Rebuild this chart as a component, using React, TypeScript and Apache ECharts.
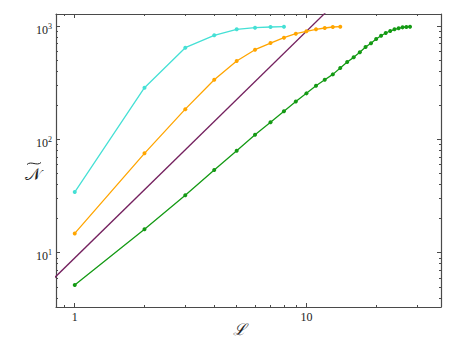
import React, { useEffect, useRef } from "react";
import * as echarts from "echarts";

// Data (log-log plot)
const cyanL = [1, 2, 3, 4, 5, 6, 7, 8];
const cyanN = [34.3, 286, 645, 829, 937, 968, 982, 988];

const orangeL = [1, 2, 3, 4, 5, 6, 7, 8, 9, 10, 11, 12, 13, 14];
const orangeN = [14.8, 75.4, 185, 336, 492, 619, 709, 790, 858, 900, 937, 962, 982, 988];

const greenL = [1, 2, 3, 4, 5, 6, 7, 8, 9, 10, 11, 12, 13, 14, 15, 16, 17, 18, 19, 20, 21, 22, 23, 24, 25, 26, 27, 28];
const greenN = [5.19, 16.1, 32.1, 53.7, 79.5, 110, 142, 177, 216, 255, 298, 336, 375, 427, 482, 530, 587, 654, 705, 769, 823, 869, 905, 937, 957, 975, 982, 988];

// Reference line N = 9 L^2 (two end points, clipped by the frame)
const refL = [0.5, 40];
const refN = [2.25, 14400];

const xRange = [0.83, 38.1];
const yRange = [3.32, 1279];

const xMajorTicks = [1, 10];
const xMinorTicks = [0.9, 2, 3, 4, 5, 6, 7, 8, 9, 20, 30];
const yMajorTicks = [10, 100, 1000];
const yMinorTicks = [4, 5, 6, 7, 8, 9, 20, 30, 40, 50, 60, 70, 80, 90, 200, 300, 400, 500, 600, 700, 800, 900];

const lg = (v: number) => Math.log10(v);
const pts = (xs: number[], ys: number[]) => xs.map((x, i) => [lg(x), lg(ys[i])]);

const FRAME = "#4a4a4a";
const TEXT = "#222";
const SERIF = '"Liberation Serif", "DejaVu Serif", serif';

export default function App() {
  const ref = useRef<HTMLDivElement>(null);
  useEffect(() => {
    if (!ref.current) return;
    const chart = echarts.init(ref.current, undefined, { renderer: "svg" });

    const xAxisBase = (position: string, ticks: number[], len: number, labels: boolean, line: boolean) => ({
      type: "value",
      position,
      min: lg(xRange[0]),
      max: lg(xRange[1]),
      axisLine: { show: line, onZero: false, lineStyle: { color: FRAME, width: 1.2 } },
      axisTick: { show: true, inside: true, length: len, customValues: ticks.map(lg), lineStyle: { color: FRAME, width: 1 } },
      axisLabel: labels
        ? {
            show: true,
            customValues: ticks.map(lg),
            margin: 4,
            color: TEXT,
            fontSize: 12,
            fontFamily: SERIF,
            formatter: (v: number) => String(Math.round(Math.pow(10, v))),
          }
        : { show: false },
      splitLine: { show: false },
    });
    const yAxisBase = (position: string, ticks: number[], len: number, labels: boolean, line: boolean) => ({
      type: "value",
      position,
      min: lg(yRange[0]),
      max: lg(yRange[1]),
      axisLine: { show: line, onZero: false, lineStyle: { color: FRAME, width: 1.2 } },
      axisTick: { show: true, inside: true, length: len, customValues: ticks.map(lg), lineStyle: { color: FRAME, width: 1 } },
      axisLabel: labels
        ? {
            show: true,
            customValues: ticks.map(lg),
            margin: 4,
            color: TEXT,
            fontFamily: SERIF,
            formatter: (v: number) => `{b|10}{s|${Math.round(v)}}`,
            rich: {
              b: { fontSize: 12, lineHeight: 12, verticalAlign: "bottom", fontFamily: SERIF, color: TEXT },
              s: { fontSize: 8, lineHeight: 19, fontFamily: SERIF, color: TEXT },
            },
          }
        : { show: false },
      splitLine: { show: false },
    });

    const lineSeries = (name: string, xs: number[], ys: number[], color: string, sym: boolean) => ({
      name,
      type: "line",
      data: pts(xs, ys),
      xAxisIndex: 0,
      yAxisIndex: 0,
      showSymbol: sym,
      symbol: "circle",
      symbolSize: 4,
      clip: true,
      lineStyle: { color, width: 1.3 },
      itemStyle: { color },
      z: 3,
    });

    chart.setOption({
      animation: false,
      backgroundColor: "#fff",
      grid: { left: 56, right: 22, top: 14, bottom: 49, containLabel: false },
      xAxis: [
        xAxisBase("bottom", xMajorTicks, 4, true, true),
        xAxisBase("bottom", xMinorTicks, 2, false, false),
        xAxisBase("top", xMajorTicks, 4, false, true),
        xAxisBase("top", xMinorTicks, 2, false, false),
      ],
      yAxis: [
        yAxisBase("left", yMajorTicks, 4, true, true),
        yAxisBase("left", yMinorTicks, 2, false, false),
        yAxisBase("right", yMajorTicks, 4, false, true),
        yAxisBase("right", yMinorTicks, 2, false, false),
      ],
      series: [
        lineSeries("ref", refL, refN, "#74215f", false),
        lineSeries("cyan", cyanL, cyanN, "#45e0d5", true),
        lineSeries("orange", orangeL, orangeN, "#ffa500", true),
        lineSeries("green", greenL, greenN, "#149a14", true),
      ],
      graphic: [
        {
          type: "text",
          x: 239,
          y: 329,
          style: {
            text: "\u2112",
            font: 'italic 16px "DejaVu Serif", serif',
            fill: TEXT,
            textAlign: "center",
            textVerticalAlign: "middle",
            align: "center",
            verticalAlign: "middle",
          },
        },
        {
          type: "text",
          x: 33,
          y: 174,
          style: {
            text: "\u{1D4A9}",
            font: '17px "DejaVu Serif", serif',
            fill: TEXT,
            textAlign: "center",
            textVerticalAlign: "middle",
            align: "center",
            verticalAlign: "middle",
          },
        },
        {
          // wide tilde accent over the N
          type: "bezierCurve",
          shape: { x1: 27, y1: 164.5, cpx1: 31, cpy1: 160.5, cpx2: 37, cpy2: 166.5, x2: 41, y2: 162.5 },
          style: { stroke: TEXT, lineWidth: 1, fill: null },
        },
      ],
    });
    return () => chart.dispose();
  }, []);
  return <div ref={ref} style={{ width: 463, height: 356, position: "absolute", left: 0, top: 0 }} />;
}
